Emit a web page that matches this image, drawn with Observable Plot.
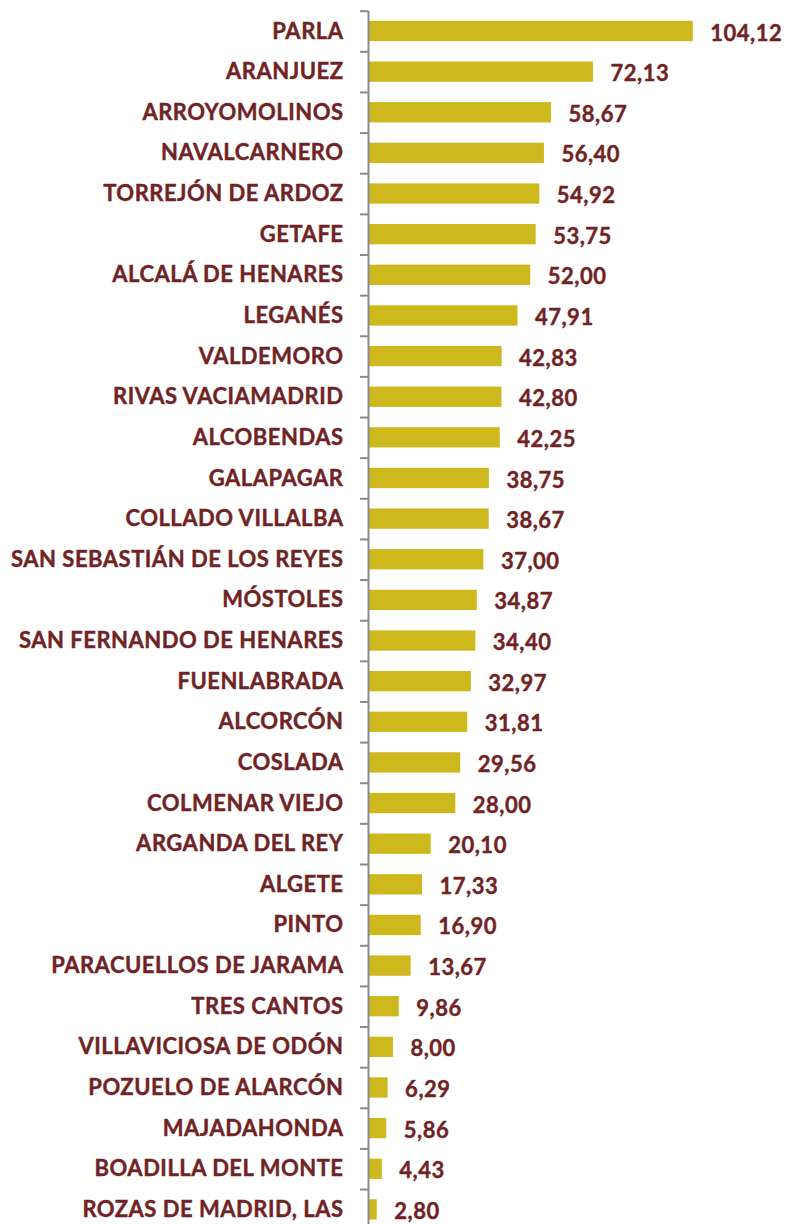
<!DOCTYPE html>
<html><head><meta charset="utf-8">
<script src="https://cdn.jsdelivr.net/npm/d3@7"></script>
<script src="https://cdn.jsdelivr.net/npm/@observablehq/plot@0.6"></script>
<style>html,body{margin:0;padding:0;overflow:hidden;background:#fff}</style>
</head><body><div id="chart"></div>
<script>
const municipios = [
  "PARLA","ARANJUEZ","ARROYOMOLINOS","NAVALCARNERO","TORREJÓN DE ARDOZ","GETAFE",
  "ALCALÁ DE HENARES","LEGANÉS","VALDEMORO","RIVAS VACIAMADRID","ALCOBENDAS","GALAPAGAR",
  "COLLADO VILLALBA","SAN SEBASTIÁN DE LOS REYES","MÓSTOLES","SAN FERNANDO DE HENARES",
  "FUENLABRADA","ALCORCÓN","COSLADA","COLMENAR VIEJO","ARGANDA DEL REY","ALGETE","PINTO",
  "PARACUELLOS DE JARAMA","TRES CANTOS","VILLAVICIOSA DE ODÓN","POZUELO DE ALARCÓN",
  "MAJADAHONDA","BOADILLA DEL MONTE","ROZAS DE MADRID, LAS"
];
const valores = [
  104.12,72.13,58.67,56.40,54.92,53.75,52.00,47.91,42.83,42.80,42.25,38.75,38.67,37.00,
  34.87,34.40,32.97,31.81,29.56,28.00,20.10,17.33,16.90,13.67,9.86,8.00,6.29,5.86,4.43,2.80
];
const data = municipios.map((m, i) => ({m, v: valores[i]}));
const fmt = v => v.toFixed(2).replace(".", ",");

const W = 786, H = 1230, mt = 10.7, mb = 0.3;
const step = (H - mt - mb) / municipios.length;
const textColor = "#702324";
const axisColor = "#8a8a8a";

const chart = Plot.plot({
  width: W, height: H,
  marginTop: mt, marginBottom: mb, marginLeft: 368, marginRight: 0,
  style: {fontFamily: "Lato, 'Open Sans', sans-serif", background: "#fff", letterSpacing: "0.5px"},
  x: {domain: [0, 134], axis: null},
  y: {domain: municipios, paddingInner: 0.5, paddingOuter: 0.25, round: false, axis: null},
  marks: [
    Plot.barX(data, {x: "v", y: "m", fill: "#CDB91E"}),
    Plot.ruleX([0], {stroke: axisColor, strokeWidth: 2}),
    Plot.axisY({tickSize: 0, tickPadding: 25, fontSize: 22, fontWeight: "bold", color: textColor,
      textStroke: textColor, textStrokeWidth: 0.4, label: null}),
    Plot.axisY({text: null, tickSize: 8, dy: -step / 2, color: axisColor, strokeWidth: 2, label: null}),
    Plot.text(data, {x: "v", y: "m", text: d => fmt(d.v), dx: 17, dy: 2, textAnchor: "start",
      fontSize: 22, fontWeight: "bold", fill: textColor, stroke: textColor, strokeWidth: 0.4})
  ]
});
document.getElementById("chart").append(chart);
</script>
</body></html>
